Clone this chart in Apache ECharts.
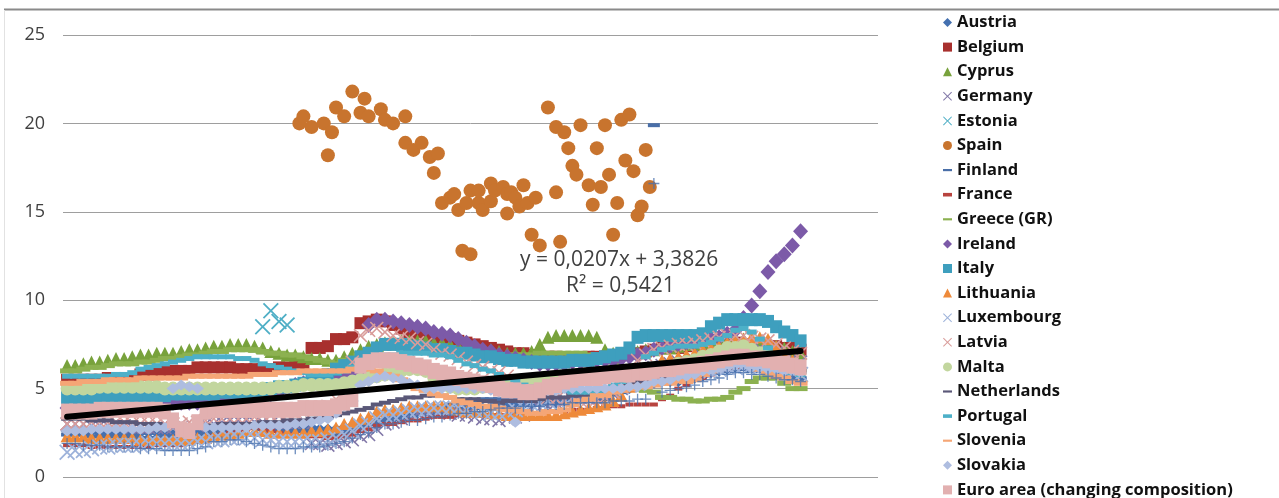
<!DOCTYPE html>
<html>
<head>
<meta charset="utf-8">
<script src="https://cdn.jsdelivr.net/npm/echarts@6/dist/echarts.min.js"></script>
<style>
  html, body { margin: 0; padding: 0; background: #ffffff; }
  #chart { width: 1279px; height: 498px; }
</style>
</head>
<body>
<div id="chart"></div>
<script>
// Month index of each observation (every second month, shared by the country series)
const monthIndex = [1,3,5,7,9, 11,13,15,17,19, 21,23,25,27,29, 31,33,35,37,39, 41,43,45,47,49, 51,53,55,57,59, 61,63,65,67,69, 71,73,75,77,79, 81,83,85,87,89, 91,93,95,97,99, 101,103,105,107,109, 111,113,115,117,119, 121,123,125,127,129, 131,133,135,137,139, 141,143,145,147,149, 151,153,155,157,159, 161,163,165,167,169, 171,173,175,177,179, 181];

const austria = [2.6,2.6,2.6,2.6,2.5, 2.5,2.5,2.5,2.5,2.5, 2.5,2.5,2.4,2.4,2.4, 2.4,2.5,2.5,2.6,2.7, 2.7,2.8,2.9,2.9,2.9, 2.9,2.8,2.8,2.8,2.8, 2.8,2.7,2.7,2.7,2.8, 2.9,2.9,3.1,3.2,3.2, 3.3,3.4,3.5,3.6,3.7, 3.7,3.7,3.8,3.8,3.9, 3.9,3.9,4.0,4.0,4.0, 4.1,4.1,4.1,4.2,4.2, 4.2,4.3,4.4,4.4,4.5, 4.6,4.6,4.8,4.9,5.0, 5.1,5.3,5.3,5.4,5.4, 5.4,5.5,5.6,5.7,5.9, 6.0,6.1,6.2,6.3,6.2, 6.2,6.1,6.0,5.9,5.7, 5.6];
const belgium = [5.5,5.5,5.5,5.5,5.5, 5.6,5.6,5.6,5.6,5.8, 5.8,6.0,6.0,6.0,6.0, 6.0,6.2,6.2,6.2,6.2, 6.2,6.1,6.1,6.1,6.1, 6.1,6.2,6.2,6.3,6.3, 7.3,7.3,7.4,7.8,7.8, 7.9,8.7,8.8,8.9,8.8, 8.6,8.4,8.2,8.0,8.0, 7.9,7.8,7.8,7.7,7.6, 7.5,7.4,7.3,7.2,7.1, 7.0,7.0,6.9,6.8,6.8, 6.8,6.7,6.7,6.7,6.8, 6.8,6.8,6.9,6.9,7.0, 7.0,7.1,7.2,7.3,7.3, 7.3,7.4,7.5,7.5,7.5, 7.6,7.6,7.6,7.5,7.5, 7.5,7.4,7.4,7.3,7.3, 7.2];
const cyprus = [6.3,6.3,6.4,6.5,6.5, 6.6,6.7,6.7,6.8,6.9, 6.9,7.0,7.0,7.0,7.1, 7.2,7.2,7.3,7.4,7.4, 7.5,7.5,7.5,7.4,7.3, 7.1,7.0,6.9,6.9,6.8, 6.7,6.7,6.6,6.6,6.8, 7.0,7.2,7.4,7.5,7.6, 7.6,7.7,7.7,7.7,7.7, 7.6,7.6,7.5,7.4,7.4, 7.3,7.2,7.2,7.1,7.0, 7.0,7.0,7.1,7.5,7.9, 8.0,8.0,8.0,8.0,8.0, 7.9,7.2,7.0,7.0,7.0, 7.1,7.2,7.2,7.3,7.3, 7.4,7.5,7.5,7.6,7.7, 7.7,7.8,7.8,7.8,7.7, 7.6,7.5,7.4,7.3,7.1, 7.0];
const germany = [3.0,3.0,3.0,2.9,2.9, 2.9,2.9,2.9,2.8,2.8, 2.8,2.8,2.8,2.8,2.8, 2.8,2.9,3.0,3.0,3.1, 3.2,3.2,3.2,3.1,3.1, 3.0,3.0,3.0,3.0,2.5, 1.9,1.9,1.8,1.9,2.0, 2.1,2.3,2.4,2.7,3.0, 3.1,3.3,3.5,3.6,3.6, 3.7,3.7,3.6,3.5,3.5, 3.4,3.3,3.3,3.2,3.3, 3.4,3.5,3.8,3.9,4.0, 4.2,4.3,4.4,4.5,4.5, 4.6,4.7,4.7,5.0,5.4, 5.6,5.9,6.2,6.3,6.4, 6.5,6.5,6.6,6.8,6.9, 7.0,7.1,7.3,7.4,7.3, 7.3,7.1,7.0,6.9,6.7, 6.5];
const estonia = [null,null,null,null,null, null,null,null,null,null, null,null,null,null,null, null,null,null,null,null, null,null,null,null,8.5, 9.4,8.8,8.6,null,null, null,null,null,null,null, null,null,null,null,null, null,null,null,null,null, null,null,null,null,null, null,null,null,null,null, null,null,null,null,null, null,null,null,null,null, null,null,null,null,null, null,null,null,null,null, null,null,null,null,null, null,null,null,null,null, null,null,null,null,null, null];
const finland = [2.4,2.4,2.4,2.3,2.3, 2.3,2.3,2.3,2.3,2.2, 2.2,2.2,2.2,2.2,2.2, 2.2,2.3,2.4,2.5,2.6, 2.6,2.7,2.8,2.8,2.7, 2.6,2.6,2.6,2.6,2.6, 2.5,2.5,2.4,2.4,2.5, 2.7,2.9,3.0,3.2,3.2, 3.3,3.4,3.6,3.8,3.8, 3.9,4.0,4.1,4.2,4.2, 4.3,4.4,4.4,4.4,4.4, 4.4,4.3,4.3,4.3,4.3, 4.2,4.2,4.2,4.3,4.3, 4.4,4.4,4.7,4.8,5.0, 5.2,5.3,19.9,5.5,5.7, 5.7,5.7,5.8,5.9,5.9, 6.0,6.1,6.1,6.1,6.0, 6.0,6.0,5.9,5.8,5.7, 5.6];
const france = [1.8,1.8,1.8,1.7,1.7, 1.7,1.7,1.7,1.7,1.7, 1.7,1.8,1.8,1.8,1.8, 1.9,2.0,2.1,2.3,2.4, 2.5,2.6,2.7,2.8,2.7, 2.6,2.5,2.4,2.4,2.3, 2.3,2.3,2.2,2.2,2.3, 2.4,2.6,2.7,2.9,3.0, 3.0,3.1,3.2,3.2,3.3, 3.4,3.4,3.4,3.5,3.5, 3.5,3.5,3.5,3.5,3.5, 3.5,3.6,3.6,3.6,3.7, 3.7,3.7,3.8,3.8,3.8, 3.9,4.0,4.0,4.0,4.1, 4.1,4.1,4.1,4.4,4.6, 5.0,5.2,5.5,5.6,5.8, 6.0,6.1,6.2,6.3,6.2, 6.2,6.1,6.0,6.0,5.9, 5.8];
const greece = [6.0,6.0,6.1,6.2,6.2, 6.3,6.4,6.4,6.4,6.5, 6.5,6.6,6.7,6.7,6.8, 6.9,6.9,7.0,7.1,7.1, 7.2,7.2,7.2,7.2,7.1, 7.0,7.0,6.9,6.9,6.8, 6.7,6.6,6.5,6.4,6.6, 6.7,6.9,7.0,7.2,7.3, 7.3,7.4,7.4,7.4,7.4, 7.3,7.3,7.2,7.1,7.0, 7.0,7.0,6.9,6.9,6.9, 6.9,6.9,6.9,7.0,7.0, 7.0,7.0,7.0,7.0,6.9, 6.9,6.8,6.5,6.0,5.4, 5.1,4.9,4.8,4.5,4.5, 4.4,4.4,4.3,4.3,4.4, 4.4,4.5,4.8,5.0,5.4, 5.6,5.6,5.6,5.3,5.0, 5.0];
const ireland = [3.9,3.9,3.9,4.0,4.0, 4.0,4.0,4.0,4.1,4.1, 4.1,4.2,4.2,4.2,4.2, 4.2,4.2,4.2,4.2,4.3, 4.3,4.3,4.3,4.4,4.6, 4.7,4.8,5.0,5.2,5.3, 5.4,5.5,5.5,5.6,5.7, 5.8,6.0,8.6,8.9,8.9, 8.8,8.7,8.6,8.5,8.4, 8.2,8.1,8.0,7.8,7.6, 7.4,7.2,7.1,6.9,6.8, 6.7,6.6,6.5,6.4,6.4, 6.4,6.4,6.5,6.5,6.5, 6.6,6.6,6.6,6.7,6.8, 6.9,7.0,7.2,7.3,7.4, 7.5,7.6,7.6,7.7,7.8, 7.9,8.1,8.3,9.0,9.7, 10.5,11.6,12.2,12.6,13.1, 13.9];
const italy = [4.5,4.5,4.5,4.5,4.5, 4.5,4.6,4.6,4.6,4.6, 4.6,4.6,4.6,4.7,4.7, 4.7,4.7,4.7,4.7,4.8, 4.8,4.8,4.8,4.9,4.9, 5.0,5.1,5.1,5.2,5.3, 5.5,5.7,5.8,6.1,6.3, 6.5,6.8,7.0,7.3,7.5, 7.5,7.5,7.4,7.4,7.3, 7.2,7.2,7.1,7.0,7.0, 6.9,6.8,6.8,6.7,6.6, 6.6,6.5,6.5,6.5,6.5, 6.5,6.5,6.6,6.6,6.6, 6.7,6.8,6.9,7.0,7.3, 7.9,8.0,8.0,8.0,8.0, 8.0,8.0,8.0,8.1,8.5, 8.7,8.9,8.9,8.9,8.9, 8.9,8.8,8.5,8.2,8.0, 7.7];
const lithuania = [2.3,2.3,2.3,2.2,2.2, 2.2,2.2,2.2,2.2,2.1, 2.1,2.1,2.1,2.1,2.1, 2.1,2.2,2.2,2.3,2.4, 2.4,2.5,2.6,2.6,2.6, 2.5,2.5,2.5,2.5,2.5, 2.6,2.6,2.7,2.8,3.0, 3.1,3.3,3.4,3.7,3.8, 3.8,3.9,4.0,4.0,4.0, 4.0,4.0,3.9,3.8,3.7, 3.7,3.7,3.6,3.6,3.5, 3.5,3.5,3.5,3.5,3.5, 3.5,3.6,3.7,3.8,3.9, 4.0,4.1,4.3,4.6,5.1, 5.5,6.0,6.2,6.6,6.7, 6.8,6.9,7.0,7.2,7.3, 7.4,7.6,7.7,7.8,7.9, 7.9,7.8,7.4,7.0,6.6, 6.2];
const luxembourg = [1.4,1.5,1.5,1.6,1.7, 1.7,1.8,1.8,1.8,1.8, 1.9,1.9,1.9,1.9,1.9, 1.9,2.0,2.0,2.1,2.1, 2.2,2.2,2.2,2.2,2.1, 2.1,2.0,2.0,2.0,2.0, 2.0,2.0,2.1,2.2,2.4, 2.6,2.9,3.0,3.3,3.5, 3.5,3.6,3.7,3.8,3.8, 3.9,3.9,3.9,3.9,3.8, 3.8,3.7,3.6,3.6,3.7, 3.8,3.9,4.1,4.2,4.3, 4.4,4.4,4.5,4.6,4.7, 4.8,4.9,5.0,5.1,5.2, 5.3,5.4,5.5,5.6,5.7, 5.7,5.8,5.9,6.0,6.0, 6.1,6.2,6.2,6.3,6.3, 6.2,6.2,6.1,6.0,5.9, 5.8];
const latvia = [3.0,3.0,3.0,3.1,3.1, 3.1,3.1,3.1,3.0,3.0, 3.0,3.0,3.0,3.0,3.0, 3.1,3.1,3.2,3.3,3.3, 3.3,3.3,3.3,3.4,3.5, 3.5,3.6,3.6,3.6,3.7, 3.8,3.9,4.0,4.4,5.0, 6.5,8.0,8.3,8.4,8.2, 8.0,7.9,7.8,7.6,7.5, 7.2,7.0,6.9,6.7,6.5, 6.3,6.2,6.0,5.9,5.7, 5.4,5.2,5.0,4.7,4.5, 4.4,4.3,4.3,4.3,4.4, 4.4,4.5,4.8,5.1,5.8, 6.6,6.9,7.2,7.3,7.4, 7.5,7.5,7.6,7.7,7.8, 7.9,8.0,8.0,8.0,7.9, 7.8,7.7,7.5,7.3,7.1, 7.0];
const malta = [5.0,5.0,5.0,5.0,5.1, 5.1,5.1,5.1,5.1,5.1, 5.1,5.1,5.0,5.0,5.0, 5.0,5.0,5.0,5.0,5.0, 5.0,5.0,5.0,5.0,5.0, 5.0,5.1,5.1,5.1,5.2, 5.2,5.2,5.2,5.2,5.3, 5.4,5.5,5.6,5.7,5.8, 5.9,6.0,6.1,6.1,6.0, 5.6,5.4,5.1,5.0,5.0, 5.0,5.1,5.1,5.2,5.3, 5.3,5.4,5.5,5.5,5.5, 5.6,5.6,5.6,5.6,5.7, 5.7,5.7,5.8,5.8,5.9, 6.0,6.0,6.1,6.2,6.2, 6.4,6.5,6.6,6.8,6.9, 7.1,7.3,7.3,7.4,7.2, 7.0,6.9,6.6,6.4,6.2, 6.0];
const netherlands = [3.3,3.3,3.3,3.2,3.2, 3.2,3.1,3.1,3.1,3.0, 3.0,3.0,2.9,2.9,2.9, 2.8,2.8,2.9,2.9,3.0, 3.0,3.0,3.0,3.0,3.1, 3.1,3.1,3.2,3.2,3.2, 3.3,3.3,3.4,3.5,3.6, 3.7,3.8,3.9,4.1,4.2, 4.3,4.4,4.5,4.5,4.6, 4.6,4.6,4.5,4.4,4.4, 4.4,4.3,4.3,4.2,4.3, 4.3,4.3,4.3,4.4,4.5, 4.5,4.5,4.6,4.6,4.6, 4.7,4.8,4.8,4.9,5.2, 5.4,5.5,5.7,5.7,5.8, 5.9,5.9,6.0,6.1,6.2, 6.3,6.4,6.4,6.5,6.4, 6.4,6.4,6.3,6.2,6.1, 6.0];
const portugal = [5.7,5.7,5.7,5.7,5.7, 5.7,5.8,5.8,5.9,6.1, 6.2,6.3,6.4,6.5,6.6, 6.7,6.8,6.8,6.8,6.8, 6.8,6.7,6.7,6.6,6.4, 6.3,6.2,6.1,6.0,5.9, 5.8,5.8,5.8,5.9,6.0, 6.2,6.4,6.5,6.8,6.9, 6.9,7.0,7.0,7.0,7.0, 6.9,6.9,6.8,6.6,6.4, 6.3,6.1,6.0,5.8,5.6, 5.4,5.2,5.1,5.0,4.9, 4.9,4.9,4.8,4.8,4.8, 4.8,4.9,5.2,5.4,6.0, 6.3,6.8,7.0,7.2,7.3, 7.4,7.4,7.4,7.5,7.6, 7.8,8.0,8.3,8.4,8.2, 7.8,7.3,6.6,6.2,5.9, 5.8];
const slovenia = [5.3,5.3,5.4,5.4,5.4, 5.5,5.5,5.5,5.5,5.6, 5.6,5.6,5.6,5.6,5.6, 5.7,5.7,5.7,5.7,5.7, 5.7,5.7,5.7,5.8,5.8, 5.8,5.9,5.9,5.9,6.0, 6.0,6.0,6.0,6.0,6.0, 6.1,6.1,6.1,6.0,5.8, 5.7,5.5,5.2,5.0,4.9, 4.7,4.6,4.5,4.3,4.2, 4.1,4.0,4.0,3.9,3.8, 3.8,3.7,3.6,3.6,3.7, 3.7,3.8,4.1,4.3,4.4, 4.6,4.6,4.8,4.9,5.0, 5.1,5.1,5.2,5.3,5.3, 5.4,5.4,5.5,5.8,6.0, 6.2,6.4,6.5,6.4,6.3, 6.1,5.9,5.7,5.6,5.4, 5.3];
const slovakia = [2.6,2.6,2.6,2.7,2.7, 2.7,2.7,2.7,2.7,2.7, 2.7,2.8,2.8,5.0,5.2, 5.1,5.0,2.8,2.8,2.8, 2.8,2.8,2.8,2.9,2.9, 2.9,2.9,2.9,3.0,3.0, 3.1,3.2,3.3,3.6,4.0, 4.3,5.2,5.4,5.6,5.7, 5.6,5.5,5.3,5.2,5.0, 5.0,5.0,5.0,5.0,5.0, 5.0,5.0,4.9,4.8,4.8, 3.1,4.8,4.8,4.8,4.9, 4.9,5.0,5.0,5.0,5.0, 5.0,5.0,5.0,5.0,5.1, 5.1,5.2,5.4,5.4,5.5, 5.7,5.7,5.8,6.0,6.0, 6.1,6.2,6.3,6.3,6.2, 6.2,6.1,6.1,6.0,6.0, 5.9];
const euroArea = [3.7,3.7,3.7,3.7,3.8, 3.8,3.8,3.8,3.8,3.8, 3.8,3.8,3.7,3.2,2.7, 2.6,3.1,3.7,3.8,3.8, 3.8,3.8,3.8,3.8,3.8, 3.8,3.8,3.8,3.8,3.9, 3.9,3.9,3.9,4.0,4.2, 4.4,6.3,6.5,6.6,6.6, 6.6,6.5,6.4,6.3,6.2, 6.0,5.9,5.8,5.6,5.5, 5.4,5.3,5.2,5.0,4.9, 4.9,4.8,4.8,4.9,5.1, 5.2,5.4,5.5,5.6,5.6, 5.6,5.7,5.8,5.8,5.8, 5.9,5.9,6.0,6.1,6.1, 6.2,6.3,6.3,6.4,6.5, 6.6,6.7,6.8,6.8,6.7, 6.7,6.6,6.5,6.4,6.3, 6.2];
const series20 = [1.9,1.9,1.8,1.8,1.8, 1.7,1.7,1.7,1.7,1.6, 1.6,1.6,1.5,1.5,1.5, 1.5,1.6,1.7,2.0,2.0, 2.1,2.1,2.0,1.9,1.8, 1.7,1.6,1.6,1.6,1.7, 1.7,1.7,1.8,1.9,2.0, 2.2,2.4,2.5,2.8,3.0, 3.0,3.1,3.2,3.2,3.3, 3.4,3.4,3.5,3.6,3.6, 3.7,3.7,3.8,3.9,3.9, 3.9,4.0,4.0,4.0,4.1, 4.1,4.1,4.2,4.2,4.2, 4.2,4.2,4.3,4.3,4.3, 4.4,4.4,16.6,4.8,4.9, 5.0,5.1,5.2,5.4,5.5, 5.6,5.8,5.9,5.9,5.8, 5.8,5.7,5.6,5.5,5.5, 5.4];

// Spain is plotted as individual [month, value] observations
const spain = [[58,20.0],[59,20.4],[61,19.8],[64,20.0],[65,18.2],[66,19.5],[67,20.9],[69,20.4],[71,21.8],[73,20.6],[74,21.4],[75,20.4],[78,20.8],[79,20.2],[81,20.0],[84,20.4],[84,18.9],[86,18.5],[88,18.9],[90,18.1],[91,17.2],[92,18.3],[93,15.5],[95,15.8],[96,16.0],[97,15.1],[98,12.8],[99,15.5],[100,16.2],[100,12.6],[102,15.5],[102,16.2],[103,15.1],[105,16.6],[105,15.6],[106,16.2],[108,16.4],[109,14.9],[109,16.0],[110,16.1],[111,15.8],[112,15.3],[113,16.5],[114,15.5],[115,13.7],[116,15.8],[117,13.1],[119,20.9],[121,19.8],[121,16.1],[122,13.3],[123,19.5],[124,18.6],[125,17.6],[126,17.1],[127,19.9],[129,16.5],[130,15.4],[131,18.6],[132,16.4],[133,19.9],[134,17.1],[135,13.7],[136,15.5],[137,20.2],[138,17.9],[139,20.5],[140,17.3],[141,14.8],[142,15.3],[143,18.5],[144,16.4]];

// Linear trend as stated on the chart
const trendSlope = 0.0207;
const trendIntercept = 3.3826;
const trendRange = [1, 181];
const trendLabel = ['y = 0,0207x + 3,3826', 'R\u00B2 = 0,5421'];

const yTicks = [0, 5, 10, 15, 20, 25];

// Marker shapes
const CROSS = 'path://M0,0.8L0.8,0L5,4.2L9.2,0L10,0.8L5.8,5L10,9.2L9.2,10L5,5.8L0.8,10L0,9.2L4.2,5Z';
const PLUS = 'path://M4.4,0H5.6V4.4H10V5.6H5.6V10H4.4V5.6H0V4.4H4.4Z';
const DASH = 'path://M0,0H10V2.4H0Z';
const SHORTDASH = 'path://M0,0H6V2.4H0Z';

const countries = [
  { name: 'Austria', values: austria, color: '#4470B0', symbol: 'diamond', size: [13, 11], icon: 'diamond' },
  { name: 'Belgium', values: belgium, color: '#A8302E', symbol: 'rect', size: [12, 12], icon: 'rect' },
  { name: 'Cyprus', values: cyprus, color: '#78A23C', symbol: 'triangle', size: [13, 13], icon: 'triangle' },
  { name: 'Germany', values: germany, color: '#8278A8', symbol: CROSS, size: [14, 14], icon: CROSS },
  { name: 'Estonia', values: estonia, color: '#4FAFC6', symbol: CROSS, size: [16, 16], icon: CROSS },
  { name: 'Spain', values: null, color: '#C8742E', symbol: 'circle', size: 14, icon: 'circle' },
  { name: 'Finland', values: finland, color: '#4A6FA8', symbol: 'rect', size: [12, 4], icon: DASH },
  { name: 'France', values: france, color: '#B8433F', symbol: 'rect', size: [8, 4], icon: SHORTDASH },
  { name: 'Greece (GR)', values: greece, color: '#8CB150', symbol: 'rect', size: [14, 5], icon: DASH },
  { name: 'Ireland', values: ireland, color: '#7C5AA8', symbol: 'diamond', size: [15, 16], icon: 'diamond' },
  { name: 'Italy', values: italy, color: '#3E9FBE', symbol: 'rect', size: [12, 13], icon: 'rect' },
  { name: 'Lithuania', values: lithuania, color: '#EE8A3A', symbol: 'triangle', size: [13, 12], icon: 'triangle' },
  { name: 'Luxembourg', values: luxembourg, color: '#9DB2DA', symbol: CROSS, size: [16, 16], icon: CROSS },
  { name: 'Latvia', values: latvia, color: '#D99C9A', symbol: CROSS, size: [14, 14], icon: CROSS },
  { name: 'Malta', values: malta, color: '#C2D69E', symbol: 'circle', size: [13, 14], icon: 'circle' },
  { name: 'Netherlands', values: netherlands, color: '#5A5878', symbol: 'rect', size: [12, 4], icon: DASH },
  { name: 'Portugal', values: portugal, color: '#4DB0C8', symbol: 'rect', size: [10, 5], icon: SHORTDASH },
  { name: 'Slovenia', values: slovenia, color: '#F5A676', symbol: 'rect', size: [14, 5], icon: DASH },
  { name: 'Slovakia', values: slovakia, color: '#AEBDE0', symbol: 'diamond', size: [13, 11], icon: 'diamond' },
  { name: 'Euro area (changing composition)', values: euroArea, color: '#E2B0B0', symbol: 'rect', size: [12, 16], icon: 'rect' }
];

function pairs(values) {
  return monthIndex.map((m, i) => [m, values[i]]).filter(p => p[1] !== null && p[1] !== undefined);
}

const series = countries.map(c => ({
  name: c.name,
  type: 'scatter',
  data: c.values ? pairs(c.values) : spain,
  symbol: c.symbol,
  symbolSize: c.size,
  itemStyle: { color: c.color, opacity: 1 },
  silent: true,
  animation: false
}));

// extra observations shown with "+" markers (not listed in the legend),
// drawn just beneath the euro-area squares
series.splice(series.length - 1, 0, {
  name: 'Series20',
  type: 'scatter',
  data: pairs(series20),
  symbol: PLUS,
  symbolSize: [11, 11],
  itemStyle: { color: '#4A72AE' },
  silent: true,
  animation: false
});

series.push({
  name: 'Trend',
  type: 'line',
  data: trendRange.map(x => [x, trendIntercept + trendSlope * x]),
  symbol: 'none',
  lineStyle: { color: '#000000', width: 6, cap: 'round' },
  z: 10,
  silent: true,
  animation: false
});

const chart = echarts.init(document.getElementById('chart'), null, { renderer: 'canvas' });
chart.setOption({
  animation: false,
  backgroundColor: '#ffffff',
  grid: { left: 63, right: 401, top: 35, bottom: 21, containLabel: false },
  xAxis: { type: 'value', min: 0, max: 200, show: false },
  yAxis: {
    type: 'value', min: yTicks[0], max: yTicks[yTicks.length - 1], interval: 5,
    axisLine: { show: false }, axisTick: { show: false },
    axisLabel: { fontFamily: 'Open Sans', fontSize: 18, color: '#404040', margin: 18 },
    splitLine: { lineStyle: { color: '#9E9E9E', width: 1 } }
  },
  legend: {
    orient: 'vertical',
    left: 938, top: 9, height: 560,
    itemWidth: 9, itemHeight: 9, itemGap: 7.6,
    selectedMode: false,
    textStyle: { fontFamily: 'Open Sans', fontWeight: 'bold', fontSize: 16.5, color: '#111111', lineHeight: 17 },
    data: countries.map(c => ({ name: c.name, icon: c.icon }))
  },
  graphic: [
    { type: 'line', shape: { x1: 4, y1: 9.5, x2: 1279, y2: 9.5 }, style: { stroke: '#8A8A8A', lineWidth: 2 }, silent: true },
    { type: 'line', shape: { x1: 4.5, y1: 10, x2: 4.5, y2: 498 }, style: { stroke: '#E2E2E2', lineWidth: 1 }, silent: true },
    { type: 'text', left: 520, top: 250, style: { text: trendLabel[0], font: '21px "Open Sans"', fill: '#404040' }, silent: true },
    { type: 'text', left: 566, top: 276, style: { text: trendLabel[1], font: '21px "Open Sans"', fill: '#404040' }, silent: true }
  ],
  series: series
});
</script>
</body>
</html>
